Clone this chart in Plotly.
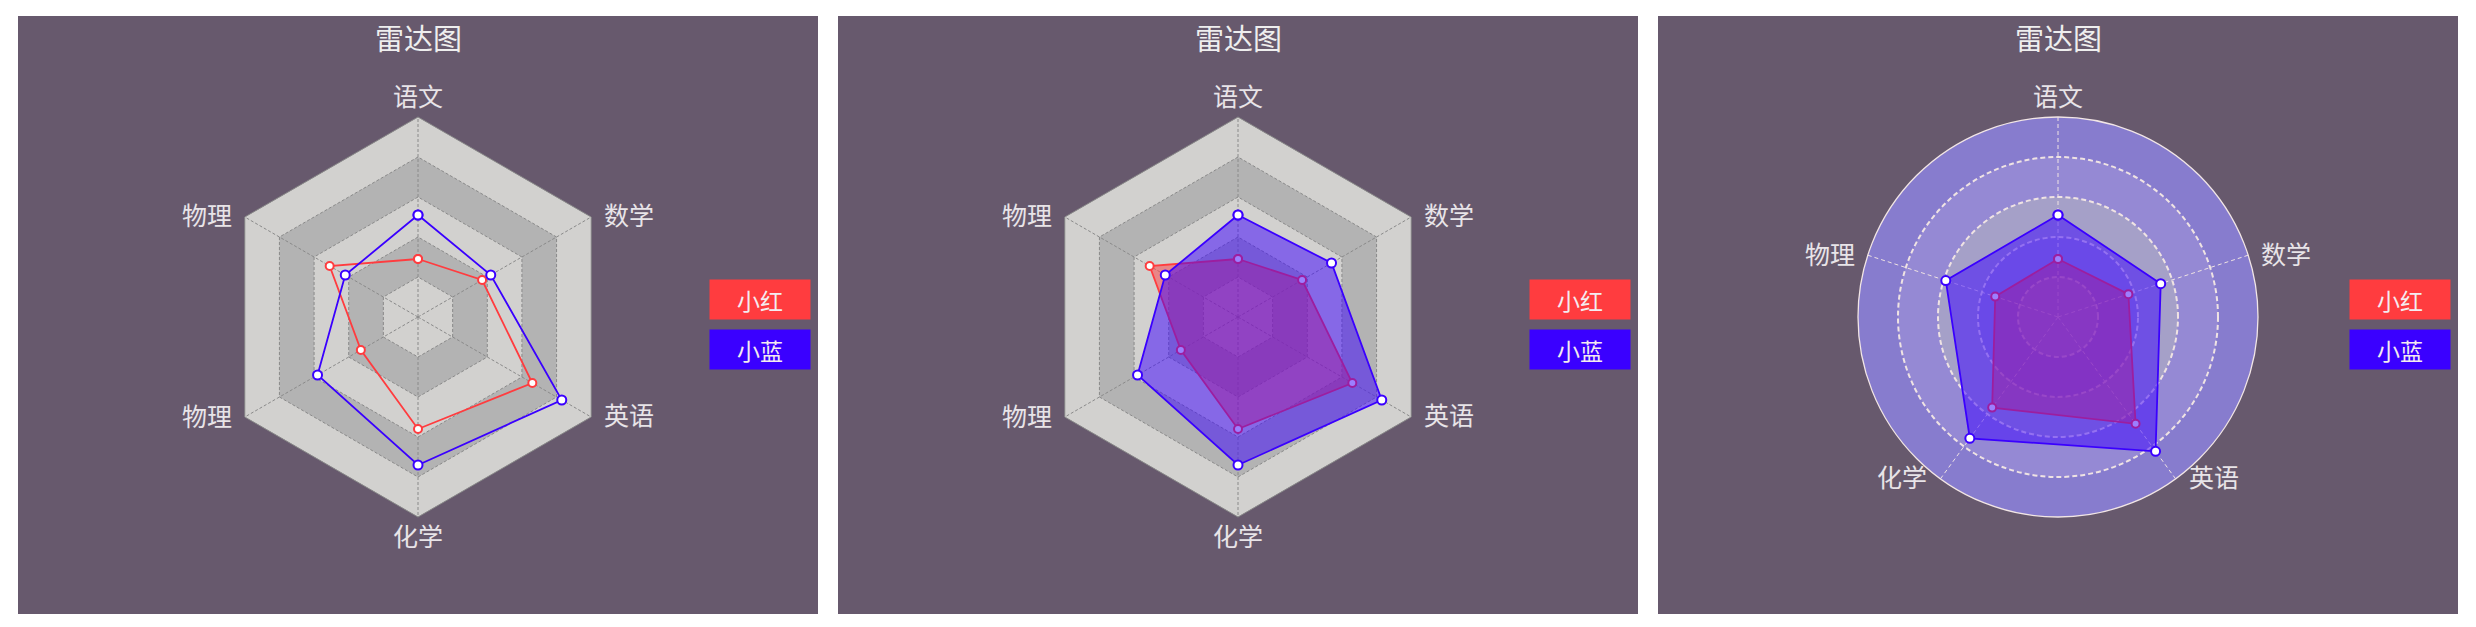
import math
import plotly.graph_objects as go

W, H = 2476, 627

# ---------------- data ----------------
indicators6 = ["语文", "数学", "英语", "化学", "物理", "物理"]
indicators5 = ["语文", "数学", "英语", "化学", "物理"]

red_p1 = [29, 37, 66, 56, 33, 51]
blue_p1 = [51, 42, 83, 74, 58, 42]
red_p2 = [29, 37, 66, 56, 33, 51]
blue_p2 = [51, 54, 83, 74, 58, 42]
red_p3 = [29, 37, 66, 56, 33]
blue_p3 = [51, 54, 83, 75, 59]

series_names = ["小红", "小蓝"]
title_text = "雷达图"
ring_levels = [100, 80, 60, 40, 20]
radial_max = 100

# ---------------- styles ----------------
FONT = "Noto Sans CJK SC"
panel_bg = "#67596d"
series_colors = ["#ff3c3f", "#3a00ff"]
series_fills = ["rgba(255,60,63,0.5)", "rgba(58,0,255,0.5)"]
hex_band_colors = ["#d2d1cf", "#b3b3b3", "#d2d1cf", "#b3b3b3", "#d2d1cf"]
circle_band_colors = ["#877cce", "#9589d4", "#a5a0c8", "#9b92d0", "#a8a2cf"]
label_color = "#e8e4e8"

panel_lefts = [18, 838, 1658]
panel_w = 800
panel_top, panel_bottom = 16, 614
R = 200
cy = 317
side_gap = 12
pole_gap = 20
label_lift = 2.5

panels = [
    dict(names=indicators6, red=red_p1, blue=blue_p1, shape="hex", filled=False),
    dict(names=indicators6, red=red_p2, blue=blue_p2, shape="hex", filled=True),
    dict(names=indicators5, red=red_p3, blue=blue_p3, shape="circle", filled=True),
]

fig = go.Figure()
layout_polars = {}
annotations = []
shapes = []


def pid(n):
    return "polar" if n == 1 else f"polar{n}"


for i, p in enumerate(panels):
    left = panel_lefts[i]
    cx = left + panel_w / 2
    dom = dict(x=[(cx - R) / W, (cx + R) / W], y=[1 - (cy + R) / H, 1 - (cy - R) / H])
    band_id = pid(2 * i + 1)
    main_id = pid(2 * i + 2)
    n = len(p["names"])

    shapes.append(dict(type="rect", xref="paper", yref="paper", layer="below",
                       x0=left / W, x1=(left + panel_w) / W,
                       y0=1 - panel_bottom / H, y1=1 - panel_top / H,
                       fillcolor=panel_bg, line=dict(width=0)))

    if p["shape"] == "hex":
        keys = [f"k{j}" for j in range(n)]
        closed = keys + keys[:1]
        for lvl, col in zip(ring_levels, hex_band_colors):
            fig.add_trace(go.Scatterpolar(r=[lvl] * (n + 1), theta=closed, mode="lines",
                                          fill="toself", fillcolor=col, line=dict(width=0),
                                          hoverinfo="skip", showlegend=False, subplot=band_id))
        ang_band = dict(type="category", categoryorder="array", categoryarray=keys,
                        direction="clockwise", rotation=90, visible=False)
        ang_main = dict(type="category", categoryorder="array", categoryarray=keys,
                        direction="clockwise", rotation=90,
                        showticklabels=False, ticks="",
                        showline=True, linecolor="#8a8a8a", linewidth=1,
                        gridcolor="#8a8a8a", griddash="3px,2px", gridwidth=1)
        rad_main = dict(range=[0, radial_max], tickvals=ring_levels, showticklabels=False,
                        ticks="", showline=False, gridcolor="#8a8a8a", griddash="3px,2px",
                        gridwidth=1)
        theta_data = closed
        gridshape = "linear"
    else:
        angles = [j * 360 / n for j in range(n)]
        fig.add_trace(go.Barpolar(r=ring_levels, theta=[0] * len(ring_levels),
                                  width=[360] * len(ring_levels),
                                  marker=dict(color=circle_band_colors, line=dict(width=0)),
                                  hoverinfo="skip", showlegend=False, subplot=band_id))
        ang_band = dict(type="linear", thetaunit="degrees", direction="clockwise",
                        rotation=90, visible=False)
        ang_main = dict(type="linear", thetaunit="degrees", direction="clockwise", rotation=90,
                        tickmode="array", tickvals=angles, showticklabels=False, ticks="",
                        showline=True, linecolor="#f2e6e6", linewidth=1.3,
                        gridcolor="#efe3e3", griddash="4px,3px", gridwidth=1.2)
        rad_main = dict(range=[0, radial_max], tickvals=ring_levels, showticklabels=False,
                        ticks="", showline=False, gridcolor="#efe3e3", griddash="5px,3px",
                        gridwidth=1.5)
        theta_data = angles + angles[:1]
        gridshape = "circular"

    layout_polars[band_id] = dict(domain=dom, bgcolor="rgba(0,0,0,0)", gridshape=gridshape,
                                  barmode="overlay",
                                  radialaxis=dict(range=[0, radial_max], visible=False),
                                  angularaxis=ang_band)
    layout_polars[main_id] = dict(domain=dom, bgcolor="rgba(0,0,0,0)", gridshape=gridshape,
                                  radialaxis=rad_main, angularaxis=ang_main)

    for k, vals in enumerate([p["red"], p["blue"]]):
        fig.add_trace(go.Scatterpolar(
            r=vals + vals[:1], theta=theta_data, mode="lines+markers",
            name=series_names[k],
            line=dict(color=series_colors[k], width=1.8),
            marker=dict(symbol="circle", size=8 if k == 0 else 9, color="white",
                        line=dict(color=series_colors[k], width=2)),
            fill="toself" if p["filled"] else "none",
            fillcolor=series_fills[k] if p["filled"] else None,
            showlegend=False, subplot=main_id))

    # indicator names (ECharts-style placement around the radar)
    for j, name in enumerate(p["names"]):
        a = math.radians(j * 360 / n)
        s, c = math.sin(a), math.cos(a)
        if abs(s) < 0.01:
            lx, ly, xa = cx, cy - (R + pole_gap) * c, "center"
        else:
            lx = cx + R * s + (side_gap if s > 0 else -side_gap)
            ly = cy - R * c
            xa = "left" if s > 0 else "right"
        ly -= label_lift
        annotations.append(dict(text=name, x=lx / W, y=1 - ly / H, xref="paper", yref="paper",
                                showarrow=False, xanchor=xa, yanchor="middle", borderpad=0,
                                font=dict(family=FONT, size=25, color=label_color)))

    # title
    annotations.append(dict(text=title_text, x=cx / W, y=1 - 36.6 / H, xref="paper",
                            yref="paper", showarrow=False, xanchor="center", yanchor="middle",
                            font=dict(family=FONT, size=29, color="#eeeeee")))
    # legend boxes
    for k in range(2):
        ycen = 299.7 + 50 * k
        annotations.append(dict(text=series_names[k], x=(left + 742) / W, y=1 - ycen / H,
                                xref="paper", yref="paper", showarrow=False,
                                xanchor="center", yanchor="middle", width=100, height=39,
                                borderpad=0, bgcolor=series_colors[k], valign="middle",
                                font=dict(family=FONT, size=23, color="#f4ecf0")))

fig.update_layout(
    width=W, height=H, autosize=False,
    margin=dict(l=0, r=0, t=0, b=0),
    paper_bgcolor="white", plot_bgcolor="white",
    showlegend=False,
    shapes=shapes, annotations=annotations,
    font=dict(family=FONT),
    **layout_polars,
)

fig.write_html("out.html", config={"displayModeBar": False},
               post_script="document.body.style.margin='0';document.body.style.overflow='hidden';")
